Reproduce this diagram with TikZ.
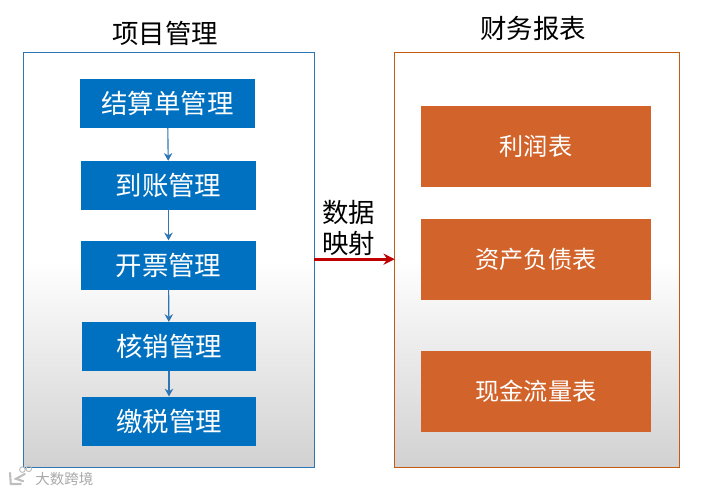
\documentclass[tikz,border=0pt]{standalone}
\usepackage{xcolor}
\usepackage{fontspec}
\setmainfont{Noto Sans CJK SC}
\usetikzlibrary{arrows.meta, positioning, calc}
\definecolor{boxblue}{HTML}{0070C0}
\definecolor{boxorange}{HTML}{D2632A}
\definecolor{edgeblue}{HTML}{2E75B6}
\definecolor{edgeorange}{HTML}{C55A11}
\definecolor{maparrow}{HTML}{C00000}
\pgfdeclareverticalshading{panelfade}{100bp}{
  color(0bp)=(black!18); color(25bp)=(black!18); color(50bp)=(white); color(75bp)=(white); color(100bp)=(white)}

\begin{document}
\begin{tikzpicture}[
    panel/.style={rectangle, shade, shading=panelfade, minimum width=#1, minimum height=10.375cm},
    stepbox/.style={rectangle, fill=boxblue, text=white, minimum width=4.375cm, minimum height=1.225cm, font=\fontsize{18.8}{22}\selectfont},
    reportbox/.style={rectangle, fill=boxorange, text=white, minimum width=5.75cm, minimum height=2.03cm, font=\fontsize{17.2}{20}\selectfont},
    title/.style={font=\fontsize{18.8}{22}\selectfont},
    arrow/.style={-{Stealth[length=5.5pt,width=6pt]}, draw=edgeblue, line width=0.8pt},
    maparrowstyle/.style={-{Stealth[length=8pt,width=8pt]}, draw=maparrow, line width=2pt}
]
\useasboundingbox (0,0) rectangle (17.675,-12.35);
% left panel
\node[title] (tpm) at (4.125,-0.84) {项目管理};
\node[panel=7.25cm] (pm) at (4.225,-6.5) {};
\draw[edgeblue, line width=0.8pt] (pm.south west) rectangle (pm.north east);
\node[stepbox] (s1) at (4.1875,-2.575) {结算单管理};
\node[stepbox, below=0.825cm of s1, xshift=0.025cm] (s2) {到账管理};
\node[stepbox, below=0.75cm of s2] (s3) {开票管理};
\node[stepbox, below=0.8cm of s3, xshift=0.0125cm, minimum width=4.35cm] (s4) {核销管理};
\node[stepbox, below=0.625cm of s4, minimum width=4.35cm] (s5) {缴税管理};

\foreach \i/\j in {s1/s2,s2/s3,s3/s4,s4/s5} {
    \draw[arrow] (\i) -- (\j);
}

% right panel
\node[title] (tfr) at (13.325,-0.72) {财务报表};
\node[panel=7.1cm] (fr) at (13.425,-6.5) {};
\draw[edgeorange, line width=0.8pt] (fr.south west) rectangle (fr.north east);
\node[reportbox] (r1) at (13.4,-3.66) {利润表};
\node[reportbox, below=0.775cm of r1] (r2) {资产负债表};
\node[reportbox, below=1.27cm of r2] (r3) {现金流量表};

% mapping arrow
\draw[maparrowstyle] (pm.east |- r2) -- (fr.west |- r2) coordinate[midway] (mapmid);
\node[above=-0.03cm of mapmid, xshift=-0.15cm, align=left, font=\fontsize{18.8}{21.5}\selectfont] (maplabel) {数据\\映射};

% watermark
\node[font=\fontsize{10.3}{12}\selectfont, text=black!34, anchor=west, inner sep=0pt] (wm) at (0.88,-11.97) {大数跨境};
\draw[black!25, line width=1.5pt, line cap=round] (0.25,-11.82) -- (0.27,-12.1) -- (0.52,-12.1);
\draw[black!25, line width=1.5pt, line cap=round] (0.62,-11.85) -- (0.4,-11.97) -- (0.58,-12.03);
\draw[black!25, line width=0.7pt] (0.56,-11.74) circle (0.07) (0.72,-11.72) circle (0.07);
\end{tikzpicture}
\end{document}
